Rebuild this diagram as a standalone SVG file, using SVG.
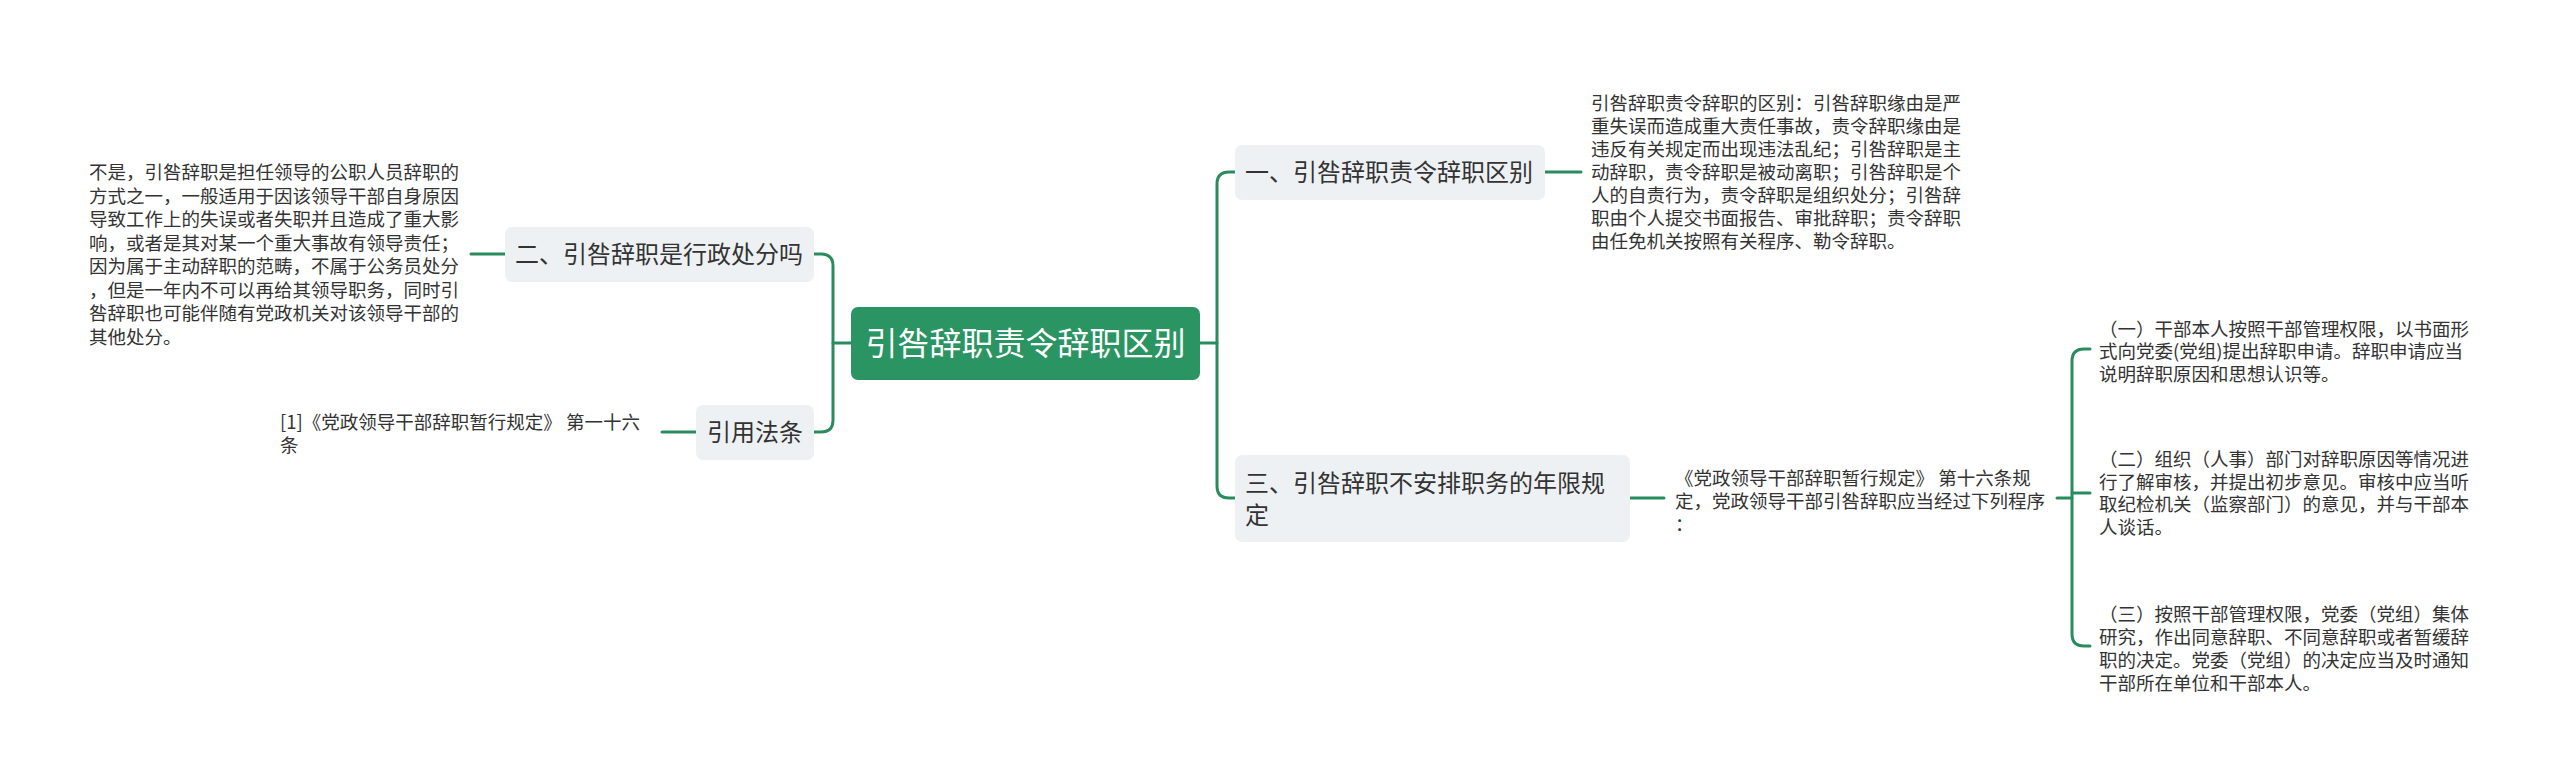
<svg xmlns="http://www.w3.org/2000/svg" width="2560" height="783" viewBox="0 0 2560 783">
<style>
.t{font-family:"Noto Sans CJK SC","Liberation Sans",sans-serif;fill:#333333}
.s{font-size:18.5px}
.m{font-size:24px}
.r{font-size:32px;fill:#ffffff}
.box{fill:#eef1f4}
.conn{fill:none;stroke:#2a8c5e;stroke-width:3;stroke-linecap:round}
</style>
<rect width="2560" height="783" fill="#ffffff"/>
<g id="connectors">
<path class="conn" d="M1200 343 H1217"/>
<path class="conn" d="M1235 172 H1229 Q1217 172 1217 184 V486 Q1217 498 1229 498 H1235"/>
<path class="conn" d="M851 343 H833"/>
<path class="conn" d="M814 254 H821 Q833 254 833 266 V420 Q833 432 821 432 H814"/>
<path class="conn" d="M1545 172 H1581"/>
<path class="conn" d="M505 254 H471"/>
<path class="conn" d="M696 432 H662"/>
<path class="conn" d="M1630 498 H1664"/>
<path class="conn" d="M2057 498 H2072"/>
<path class="conn" d="M2090 349 H2084 Q2072 349 2072 361 V634 Q2072 646 2084 646 H2090"/>
<path class="conn" d="M2072 493 H2090"/>
</g>
<g id="root">
<rect x="851" y="307" width="349" height="73" rx="7" fill="#2a9462"/>
<text class="t r" x="1025.5" y="355" text-anchor="middle">引咎辞职责令辞职区别</text>
</g>
<g id="n1">
<rect class="box" x="1235" y="145" width="310" height="55" rx="7"/>
<text class="t m" x="1245" y="181">一、引咎辞职责令辞职区别</text>
</g>
<g id="n1-text">
<text class="t s" x="1591"><tspan x="1591" y="110">引咎辞职责令辞职的区别：引咎辞职缘由是严</tspan><tspan x="1591" y="133">重失误而造成重大责任事故，责令辞职缘由是</tspan><tspan x="1591" y="156">违反有关规定而出现违法乱纪；引咎辞职是主</tspan><tspan x="1591" y="179">动辞职，责令辞职是被动离职；引咎辞职是个</tspan><tspan x="1591" y="202">人的自责行为，责令辞职是组织处分；引咎辞</tspan><tspan x="1591" y="225">职由个人提交书面报告、审批辞职；责令辞职</tspan><tspan x="1591" y="248">由任免机关按照有关程序、勒令辞职。</tspan></text>
</g>
<g id="n3">
<rect class="box" x="1235" y="455" width="395" height="87" rx="7"/>
<text class="t m"><tspan x="1245" y="492">三、引咎辞职不安排职务的年限规</tspan><tspan x="1245" y="524">定</tspan></text>
</g>
<g id="n3-text">
<text class="t s"><tspan x="1675" y="485">《党政领导干部辞职暂行规定》 第十六条规</tspan><tspan x="1675" y="508">定，党政领导干部引咎辞职应当经过下列程序</tspan><tspan x="1675" y="531">：</tspan></text>
</g>
<g id="n3-1">
<text class="t s"><tspan x="2099" y="335.5">（一）干部本人按照干部管理权限，以书面形</tspan><tspan x="2099" y="358">式向党委(党组)提出辞职申请。辞职申请应当</tspan><tspan x="2099" y="380.5">说明辞职原因和思想认识等。</tspan></text>
</g>
<g id="n3-2">
<text class="t s"><tspan x="2099" y="466">（二）组织（人事）部门对辞职原因等情况进</tspan><tspan x="2099" y="488.5">行了解审核，并提出初步意见。审核中应当听</tspan><tspan x="2099" y="511">取纪检机关（监察部门）的意见，并与干部本</tspan><tspan x="2099" y="533.5">人谈话。</tspan></text>
</g>
<g id="n3-3">
<text class="t s"><tspan x="2099" y="620.5">（三）按照干部管理权限，党委（党组）集体</tspan><tspan x="2099" y="643.5">研究，作出同意辞职、不同意辞职或者暂缓辞</tspan><tspan x="2099" y="666.5">职的决定。党委（党组）的决定应当及时通知</tspan><tspan x="2099" y="689.5">干部所在单位和干部本人。</tspan></text>
</g>
<g id="n2">
<rect class="box" x="505" y="227" width="309" height="55" rx="7"/>
<text class="t m" x="515" y="263">二、引咎辞职是行政处分吗</text>
</g>
<g id="n2-text">
<text class="t s"><tspan x="89" y="179">不是，引咎辞职是担任领导的公职人员辞职的</tspan><tspan x="89" y="202.5">方式之一，一般适用于因该领导干部自身原因</tspan><tspan x="89" y="226">导致工作上的失误或者失职并且造成了重大影</tspan><tspan x="89" y="249.5">响，或者是其对某一个重大事故有领导责任；</tspan><tspan x="89" y="273">因为属于主动辞职的范畴，不属于公务员处分</tspan><tspan x="89" y="296.5">，但是一年内不可以再给其领导职务，同时引</tspan><tspan x="89" y="320">咎辞职也可能伴随有党政机关对该领导干部的</tspan><tspan x="89" y="343.5">其他处分。</tspan></text>
</g>
<g id="n4">
<rect class="box" x="696" y="405" width="118" height="55" rx="7"/>
<text class="t m" x="707" y="441">引用法条</text>
</g>
<g id="n4-text">
<text class="t s"><tspan x="280" y="428.5">[1]《党政领导干部辞职暂行规定》 第一十六</tspan><tspan x="280" y="451.5">条</tspan></text>
</g>
</svg>
